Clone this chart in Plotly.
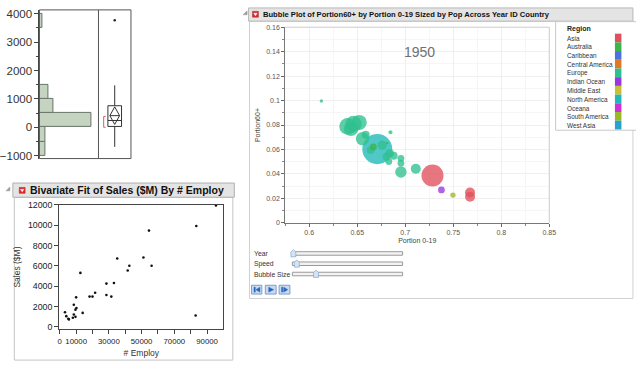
import plotly.graph_objects as go

W, H = 636, 367
def px(x): return x / W
def py(y): return 1 - y / H

FONT = "Liberation Sans, Arial, sans-serif"

# ---------------- Panel 1: distribution (histogram + box plot) ----------------
bin_centers = [-750, -250, 250, 750, 1250, 1750, 2250, 2750, 3250, 3750]
bin_counts = [2, 2, 18, 5, 3, 0, 0, 0, 0, 1]
box_q1, box_median, box_q3 = 30, 240, 760
box_lower, box_upper = -690, 1480
mean_val, mean_lo, mean_hi = 410, 100, 720
short_half = [0, 380]
outliers = [3770]

# ---------------- Panel 2: bivariate fit ----------------
employ = [95400, 83400, 54500, 35100, 51100, 42500, 56100, 41500, 12600, 28500,
          33100, 28500, 31500, 21600, 20000, 18200, 10000, 8600, 10200, 9600,
          3200, 14000, 8600, 4000, 9600, 8000, 5200, 5600, 83000]
sales = [11940, 9920, 9470, 6720, 6820, 6020, 6020, 5540, 5310, 4260,
         4320, 3140, 2980, 3360, 2980, 2980, 2910, 2180, 1860, 1700,
         1440, 1380, 1220, 1060, 990, 900, 800, 740, 1120]

# ---------------- Panel 3: bubble plot ----------------
regions = ["Asia", "Australia", "Caribbean", "Central America", "Europe",
           "Indian Ocean", "Middle East", "North America", "Oceana",
           "South America", "West Asia"]
region_colors = ["#e0505c", "#3cb44a", "#4a72e0", "#e07828", "#2fc090",
                 "#9838e0", "#c8c030", "#20b8b8", "#d030d8", "#98b828", "#28a0d0"]
portion_0_19 = [0.6709, 0.7284, 0.6401, 0.6462, 0.6521, 0.6435, 0.6555, 0.6955,
                0.7110, 0.6839, 0.6760, 0.6880, 0.6805, 0.6640, 0.6589, 0.6829,
                0.6955, 0.6955, 0.7675, 0.7675, 0.7377, 0.7497, 0.6668, 0.6846,
                0.6812, 0.6127]
portion_60 = [0.0603, 0.0387, 0.0789, 0.0808, 0.0821, 0.0768, 0.0688, 0.0416,
              0.0443, 0.0568, 0.0635, 0.0549, 0.0541, 0.0595, 0.0720, 0.0501,
              0.0528, 0.0488, 0.0248, 0.0213, 0.0269, 0.0227, 0.0621, 0.0741,
              0.0653, 0.0997]
pop = [158, 85, 50, 47, 40, 36, 31, 23, 17.5, 13, 15, 11, 11, 11, 11, 8,
       8, 8, 17.5, 17.5, 8, 5, 8, 2.8, 1.2, 2]
bubble_region = ["North America", "Asia", "Europe", "Europe", "Europe", "Europe",
                 "Europe", "Europe", "Europe", "Europe", "Europe", "Europe",
                 "Europe", "Europe", "Europe", "Europe", "Europe", "Europe",
                 "Asia", "Asia", "Indian Ocean", "South America", "Australia",
                 "Europe", "Australia", "Europe"]
year_label = "1950"
color_of = dict(zip(regions, region_colors))

fig = go.Figure()

# histogram
fig.add_trace(go.Bar(
    y=bin_centers, x=bin_counts, orientation="h", width=500,
    marker=dict(color="#c4d4c0", line=dict(color="#66746a", width=1)),
    xaxis="x", yaxis="y", showlegend=False, hoverinfo="skip"))

# box plot
fig.add_trace(go.Box(
    x=[0.5], q1=[box_q1], median=[box_median], q3=[box_q3],
    lowerfence=[box_lower], upperfence=[box_upper], width=0.42,
    fillcolor="white", line=dict(color="#333333", width=1), whiskerwidth=0,
    boxpoints=False, orientation="v", xaxis="x2", yaxis="y",
    showlegend=False, hoverinfo="skip"))
# means diamond
fig.add_trace(go.Scatter(
    x=[0.35, 0.5, 0.65, 0.5, 0.35, None, 0.35, 0.65],
    y=[mean_val, mean_hi, mean_val, mean_lo, mean_val, None, mean_val, mean_val],
    mode="lines", line=dict(color="#333333", width=1),
    xaxis="x2", yaxis="y", showlegend=False, hoverinfo="skip"))
# shortest half bracket
fig.add_trace(go.Scatter(
    x=[0.22, 0.16, 0.16, 0.22], y=[short_half[1], short_half[1], short_half[0], short_half[0]],
    mode="lines", line=dict(color="#e05a6a", width=1),
    xaxis="x2", yaxis="y", showlegend=False, hoverinfo="skip"))
# outlier
fig.add_trace(go.Scatter(
    x=[0.5] * len(outliers), y=outliers, mode="markers",
    marker=dict(color="#222222", size=2.5),
    xaxis="x2", yaxis="y", showlegend=False, hoverinfo="skip"))

# bivariate scatter
fig.add_trace(go.Scatter(
    x=employ, y=sales, mode="markers",
    marker=dict(color="#111111", size=2.6),
    xaxis="x3", yaxis="y3", showlegend=False, hoverinfo="skip"))

# bubbles
fig.add_trace(go.Scatter(
    x=portion_0_19, y=portion_60, mode="markers",
    marker=dict(size=pop, sizemode="area", sizeref=0.35,
                color=[color_of[r] for r in bubble_region],
                opacity=0.78, line=dict(width=0)),
    xaxis="x4", yaxis="y4", showlegend=False, hoverinfo="skip"))

tickfont_big = dict(family=FONT, size=11.5, color="#333333")
tickfont_y3 = dict(family=FONT, size=8.8, color="#222222")
tickfont_x3 = dict(family=FONT, size=7.8, color="#222222")
tickfont_small = dict(family=FONT, size=7, color="#555555")

layout = dict(
    width=W, height=H, margin=dict(l=0, r=0, t=0, b=0),
    paper_bgcolor="white", plot_bgcolor="rgba(0,0,0,0)",
    font=dict(family=FONT),
    bargap=0,
    # panel 1
    xaxis=dict(domain=[px(37), px(97)], range=[0, 20.4], visible=False, fixedrange=True),
    yaxis=dict(domain=[py(157), py(5)], range=[-1103, 4138],
               tickvals=[-1000, 0, 1000, 2000, 3000, 4000], ticks="outside",
               ticklen=4, tickcolor="#444", showline=True, linecolor="#444",
               showgrid=False, zeroline=False, tickfont=tickfont_big,
               minor=dict(dtick=500, ticks="outside", ticklen=2, tickcolor="#444"),
               anchor="x"),
    xaxis2=dict(domain=[px(97), px(130)], range=[0, 1], visible=False, anchor="y"),
    # panel 2
    xaxis3=dict(domain=[px(57), px(224)], range=[-400, 100000], anchor="y3",
                tickvals=[0, 10000, 30000, 50000, 70000, 90000], tickformat="d",
                tickangle=0,
                ticks="outside", ticklen=4, tickcolor="#444",
                minor=dict(tickvals=[20000, 40000, 60000, 80000], ticks="outside",
                           ticklen=4, tickcolor="#444"),
                showline=True, mirror=True, linecolor="#444", showgrid=False,
                zeroline=False, tickfont=tickfont_x3,
                title=dict(text="# Employ", font=dict(family=FONT, size=8.5, color="#333"),
                           standoff=5)),
    yaxis3=dict(domain=[py(331.5), py(204.3)], range=[-230, 12000], anchor="x3",
                dtick=2000, tickformat="d", ticks="outside", ticklen=4, tickcolor="#444",
                showline=True, mirror=True, linecolor="#444", showgrid=False,
                zeroline=False, tickfont=tickfont_y3,
                title=dict(text="Sales ($M)", font=dict(family=FONT, size=8.5, color="#333"),
                           standoff=5)),
    # panel 3
    xaxis4=dict(domain=[px(286.7), px(555)], range=[0.575, 0.85], anchor="y4",
                dtick=0.05, tick0=0.6, ticks="outside", ticklen=3, tickcolor="#666",
                minor=dict(dtick=0.025, ticks="outside", ticklen=2, tickcolor="#888",
                           showgrid=True, gridcolor="#f6f6f6"),
                showline=True, linecolor="#777", showgrid=True, gridcolor="#efefef",
                zeroline=False, tickfont=tickfont_small,
                title=dict(text="Portion 0-19", font=dict(family=FONT, size=7, color="#444"),
                           standoff=2)),
    yaxis4=dict(domain=[py(222.7), py(22.7)], range=[0, 0.16], anchor="x4",
                dtick=0.02, ticks="outside", ticklen=3, tickcolor="#666",
                minor=dict(dtick=0.01, ticks="outside", ticklen=2, tickcolor="#888",
                           showgrid=True, gridcolor="#f6f6f6"),
                showline=True, linecolor="#777", showgrid=True, gridcolor="#efefef",
                zeroline=False, tickfont=tickfont_small,
                title=dict(text="Portion60+", font=dict(family=FONT, size=7, color="#444"),
                           standoff=4)),
)
fig.update_layout(**layout)

shapes = []
def rect(x0, y0, x1, y1, line="#b4b4b4", fill=None, width=1, layer="below"):
    shapes.append(dict(type="rect", xref="paper", yref="paper",
                       x0=px(x0), x1=px(x1), y0=py(y1), y1=py(y0),
                       line=dict(color=line, width=width),
                       fillcolor=fill if fill else "rgba(0,0,0,0)", layer=layer))
def line(x0, y0, x1, y1, color="#555", width=1):
    shapes.append(dict(type="line", xref="paper", yref="paper",
                       x0=px(x0), x1=px(x1), y0=py(y0), y1=py(y1),
                       line=dict(color=color, width=width), layer="above"))
def path(pts, fill, color=None):
    d = "M " + " L ".join(f"{px(a):.5f},{py(b):.5f}" for a, b in pts) + " Z"
    shapes.append(dict(type="path", xref="paper", yref="paper", path=d,
                       fillcolor=fill, line=dict(color=color or fill, width=0.5),
                       layer="above"))
def red_icon(x, y):
    rect(x, y, x + 6, y + 6, line="#b02020", fill="#d83030", width=0.5, layer="above")
    path([(x + 1.3, y + 2), (x + 4.7, y + 2), (x + 3, y + 4.4)], "white")
def disclosure(x, y):
    path([(x + 4, y), (x + 4, y + 4), (x, y + 4)], "#9a9a9a")

# panel 1 frame
rect(37, 5, 130, 157, line="#555555", layer="above")
line(97, 5, 97, 157, color="#555555")

# panel 2 chrome
rect(11.5, 196.5, 233.5, 363, line="#c4c4c4", fill="white")
rect(10, 182, 235, 196.5, line="#b0b0b0", fill="#e4e4e4")
disclosure(3, 186)
red_icon(16.5, 186.5)

# panel 3 chrome
rect(250.5, 16.5, 640, 300, line="#d0d0d0", fill="white")
rect(249.5, 3, 640, 16.5, line="#b8b8b8", fill="#e4e4e4")
disclosure(244, 6)
red_icon(253.5, 6.5)
# plot frame (top/right light)
line(286.7, 22.7, 555, 22.7, color="#cccccc")
line(555, 22.7, 555, 222.7, color="#cccccc")

# legend box
rect(561.5, 17, 645, 128, line="#c8c8c8", fill="white")
for i, c in enumerate(region_colors):
    y0 = 29.3 + i * 8.9
    rect(621.7, y0, 628.3, y0 + 8.9, line=c, fill=c, width=0, layer="above")

# sliders
slider_rows = [("Year", 254, 295), ("Speed", 264.5, 298.5), ("Bubble Size", 275, 318)]
for label, yy, hx in slider_rows:
    rect(294, yy - 1.8, 406, yy + 1.8, line="#9a9a9a", fill="#f2f2f2", layer="above")
    path([(hx, yy - 4), (hx + 2.5, yy - 1.5), (hx + 2.5, yy + 3.5), (hx - 2.5, yy + 3.5), (hx - 2.5, yy - 1.5)],
         "#d4e4f6", "#6f8db4")

# buttons
for bx0, bx1 in [(252.5, 263), (266.5, 277.5), (280.5, 291.5)]:
    rect(bx0, 286.5, bx1, 295.5, line="#7f9fc8", fill="#c8daef", layer="above")
path([(255, 288.5), (256.3, 288.5), (256.3, 293.5), (255, 293.5)], "#2a64c0")
path([(261, 288.5), (261, 293.5), (257, 291)], "#2a64c0")
path([(270, 288.5), (270, 293.5), (275, 291)], "#2a64c0")
path([(283, 288.5), (284.3, 288.5), (284.3, 293.5), (283, 293.5)], "#2a64c0")
path([(285.3, 288.5), (285.3, 293.5), (289.3, 291)], "#2a64c0")

fig.update_layout(shapes=shapes)

ann = []
def text(x, y, s, size=7, color="#333", bold=False, xanchor="left", family=FONT):
    ann.append(dict(x=px(x), y=py(y), xref="paper", yref="paper", text=f"<b>{s}</b>" if bold else s,
                    showarrow=False, xanchor=xanchor, yanchor="middle",
                    font=dict(family=family, size=size, color=color)))

text(25.5, 189.5, "Bivariate Fit of Sales ($M) By # Employ", size=10.5, color="#111", bold=True)
text(262.5, 9.8, "Bubble Plot of Portion60+ by Portion 0-19 Sized by Pop Across Year ID Country",
     size=7.6, color="#111", bold=True)
text(423.5, 48, year_label, size=14, color="#707070", xanchor="center")
text(570.5, 25, "Region", size=7, color="#222", bold=True)
for i, r in enumerate(regions):
    text(570.5, 34 + i * 8.93, r, size=6.4, color="#333")
for label, yy, hx in slider_rows:
    text(252.5, yy, label, size=6.8, color="#333")

fig.update_layout(annotations=ann)
fig.write_html("out.html", config={"displayModeBar": False},
               post_script="document.body.style.margin='0';document.body.style.padding='0';")
